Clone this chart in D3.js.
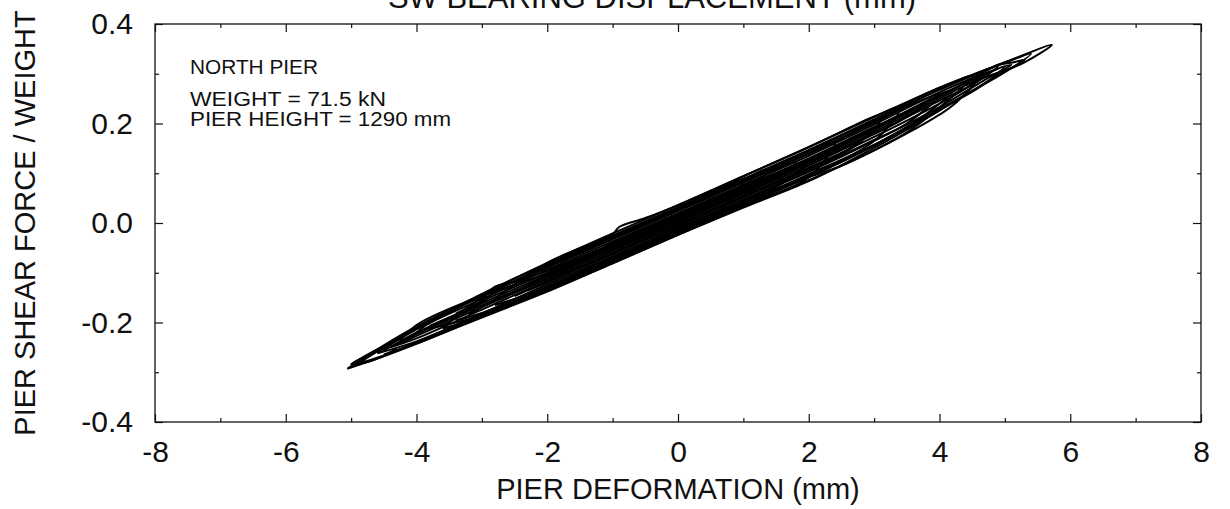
<!DOCTYPE html>
<html>
<head>
<meta charset="utf-8">
<script src="https://cdn.jsdelivr.net/npm/d3@7"></script>
<style>
  body { margin: 0; background: #fff; }
  text { font-family: "Liberation Sans", Arial, sans-serif; fill: #111; }
</style>
</head>
<body>
<div id="chart"></div>
<script>
// Data
const xMajor = [-8, -6, -4, -2, 0, 2, 4, 6, 8]
const xMinor = [-7, -5, -3, -1, 1, 3, 5, 7]
const yMajor = [-0.4, -0.2, 0.0, 0.2, 0.4]
const yMinor = [-0.3, -0.1, 0.1, 0.3]
const notes = ["NORTH PIER", "WEIGHT = 71.5 kN", "PIER HEIGHT = 1290 mm"]

// hysteresis cycles [deformation mm, shear / weight]
const loop1 = [[-5.06,-0.293],[-4.5,-0.246],[-4,-0.208],[-3,-0.143],[-2,-0.080],[-1,-0.021],[0,0.036],[1,0.094],[2,0.153],[3,0.213],[4,0.272],[5,0.323],[5.72,0.358],
  [5.3,0.323],[5,0.305],[4,0.226],[3,0.151],[2,0.084],[1,0.031],[0,-0.024],[-1,-0.081],[-2,-0.138],[-3,-0.190],[-4,-0.243],[-4.5,-0.268],[-5.06,-0.293]]
const loop2 = [[-4.9,-0.283],[-4.5,-0.250],[-4,-0.211],[-3,-0.148],[-2,-0.087],[-1,-0.029],[0,0.028],[1,0.086],[2,0.145],[3,0.207],[4,0.268],[5,0.322],[5.4,0.340],
  [5,0.303],[4,0.229],[3,0.157],[2,0.093],[1,0.038],[0,-0.018],[-1,-0.075],[-2,-0.132],[-3,-0.186],[-4,-0.240],[-4.5,-0.266],[-4.9,-0.283]]
const loop3 = [[-4.6,-0.262],[-4,-0.214],[-3,-0.153],[-2,-0.094],[-1,-0.037],[0,0.020],[1,0.077],[2,0.135],[3,0.198],[4,0.263],[4.6,0.296],[5.1,0.318],
  [4.7,0.288],[4,0.233],[3,0.165],[2,0.103],[1,0.047],[0,-0.010],[-1,-0.067],[-2,-0.124],[-3,-0.182],[-4,-0.238],[-4.6,-0.262]]
const loop4 = [[-4.4,-0.250],[-4,-0.220],[-3,-0.160],[-2.8,-0.138],[-2.5,-0.124],[-2,-0.101],[-1,-0.045],[0,0.012],[1,0.069],[2,0.127],[3,0.190],[4,0.257],[4.8,0.305],
  [4.4,0.270],[4,0.240],[3,0.173],[2,0.111],[1,0.055],[0,-0.002],[-1,-0.059],[-2,-0.116],[-3,-0.174],[-4,-0.232],[-4.4,-0.250]]
const loop5 = [[-4.1,-0.232],[-3.85,-0.205],[-3.5,-0.180],[-3,-0.143],[-2,-0.082],[-1,-0.025],[0,0.032],[1,0.089],[2,0.147],[3,0.208],[4,0.272],[4.5,0.295],
  [4,0.232],[3.5,0.182],[3,0.146],[2.5,0.115],[2,0.092],[1,0.043],[0,-0.014],[-1,-0.071],[-2,-0.128],[-3,-0.185],[-4,-0.240]]
const loop6 = [[-3.6,-0.212],[-3,-0.150],[-2,-0.090],[-1,-0.033],[0,0.024],[1,0.081],[2,0.139],[3,0.202],[3.6,0.240],[4.2,0.266],
  [3.7,0.210],[3,0.157],[2,0.094],[1,0.037],[0,-0.020],[-1,-0.077],[-2,-0.134],[-3,-0.189],[-3.6,-0.212]]
const loop7 = [[-3.2,-0.185],[-3.0,-0.155],[-2.8,-0.128],[-2.5,-0.118],[-2,-0.096],[-1,-0.041],[0,0.016],[1,0.073],[2,0.130],[3,0.193],[3.8,0.240],
  [3.3,0.198],[3,0.179],[2,0.116],[1,0.059],[0,0.002],[-1,-0.055],[-2,-0.112],[-3,-0.169],[-3.2,-0.185]]
const loop8 = [[-2.8,-0.152],[-2,-0.080],[-1,-0.022],[-0.9,-0.008],[-0.5,0.010],[0,0.036],[1,0.094],[2,0.152],[3,0.214],[3.4,0.232],
  [3,0.165],[2,0.098],[1,0.041],[0,-0.016],[-1,-0.073],[-2,-0.130],[-2.8,-0.165]]
const loop9 = [[-2.3,-0.125],[-2,-0.106],[-1,-0.049],[0,0.008],[1,0.065],[2,0.122],[2.9,0.180],
  [2.5,0.139],[2,0.108],[1,0.051],[0,-0.006],[-1,-0.063],[-2,-0.120],[-2.3,-0.136]]
const loop10 = [[-1.8,-0.078],[-1,-0.031],[0,0.026],[1,0.083],[2,0.140],[2.4,0.162],
  [2,0.092],[1,0.035],[0,-0.022],[-1,-0.079],[-1.8,-0.118]]
const loop11 = [[-1.2,-0.055],[-1,-0.039],[0,0.018],[1,0.075],[1.8,0.122],
  [1.5,0.089],[1,0.061],[0,0.004],[-1,-0.053],[-1.2,-0.066]]
const loop12 = [[-0.7,-0.016],[0,0.030],[1,0.087],
  [0.6,0.021],[0,-0.014],[-0.7,-0.055]]
const loop13 = [[-3.8,-0.207],[-3,-0.161],[-2,-0.104],[-1,-0.047],[0,0.010],[1,0.067],[2,0.124],[3,0.187],[4,0.254],[4.6,0.292],
  [4.2,0.236],[4,0.218],[3.5,0.180],[3,0.146],[2,0.086],[1,0.033],[0,-0.024],[-1,-0.081],[-2,-0.136],[-3,-0.186],[-3.8,-0.212]]
const loop14 = [[-4.3,-0.245],[-4,-0.205],[-3,-0.145],[-2,-0.088],[-1,-0.031],[0,0.026],[1,0.083],[2,0.140],[3,0.203],[4,0.268],[4.9,0.316],
  [4.5,0.278],[4,0.246],[3,0.179],[2,0.116],[1,0.059],[0,0.002],[-1,-0.055],[-2,-0.112],[-3,-0.169],[-4,-0.227],[-4.3,-0.245]]
const loop15 = [[-3.4,-0.182],[-3,-0.157],[-2,-0.100],[-1,-0.043],[0,0.014],[1,0.071],[2,0.128],[3,0.191],[4,0.256],
  [3.5,0.200],[3,0.167],[2,0.104],[1,0.047],[0,-0.010],[-1,-0.067],[-2,-0.124],[-3,-0.181],[-3.4,-0.196]]
const loop16 = [[-2.5,-0.118],[-2,-0.084],[-1,-0.027],[0,0.030],[1,0.087],[2,0.144],[3.1,0.208],
  [2.7,0.154],[2,0.110],[1,0.053],[0,-0.004],[-1,-0.061],[-2,-0.118],[-2.5,-0.147]]
const loop17 = [[-4.5,-0.256],[-4,-0.223],[-3,-0.165],[-2,-0.108],[-1,-0.051],[0,0.006],[1,0.063],[2,0.120],[3,0.183],[4,0.250],[5,0.315],
  [4.6,0.272],[4,0.228],[3,0.155],[2,0.092],[1,0.037],[0,-0.020],[-1,-0.077],[-2,-0.134],[-3,-0.188],[-4,-0.242],[-4.5,-0.264]]
const loop18 = [[-1.5,-0.074],[-1,-0.045],[0,0.012],[1,0.069],[2,0.126],
  [1.6,0.080],[1,0.045],[0,-0.012],[-1,-0.069],[-1.5,-0.098]]
const tipRight = [[4.4,0.285],[4.7,0.305],[4.9,0.318],[5.1,0.322],[5.3,0.328],[5.1,0.312],[4.85,0.300],[4.6,0.288],[4.4,0.276]]
const tipLeft = [[-4.3,-0.236],[-4.6,-0.254],[-4.85,-0.272],[-5.0,-0.284],[-4.8,-0.281],[-4.55,-0.270],[-4.3,-0.252]]

const loops = [loop1, loop2, loop3, loop4, loop5, loop6, loop7, loop8, loop9, loop10, loop11, loop12,
  loop13, loop14, loop15, loop16, loop17, loop18, tipRight, tipLeft]

function draw() {
  // Dimensions
  let dimensions = {
    width: 1230,
    height: 509,
    margins: { top: 24, right: 29, bottom: 87, left: 155 }
  }
  dimensions.ctrWidth = dimensions.width - dimensions.margins.left - dimensions.margins.right
  dimensions.ctrHeight = dimensions.height - dimensions.margins.top - dimensions.margins.bottom

  const svg = d3.select('#chart')
    .append('svg')
    .attr('width', dimensions.width)
    .attr('height', dimensions.height)

  const ctr = svg.append('g')
    .attr('transform', `translate(${dimensions.margins.left}, ${dimensions.margins.top})`)

  // Scales
  const xScale = d3.scaleLinear()
    .domain([-8, 8])
    .range([0, dimensions.ctrWidth])
  const yScale = d3.scaleLinear()
    .domain([-0.4, 0.4])
    .range([dimensions.ctrHeight, 0])

  // Axes: ticks point inward on every side
  const fontSize = 30
  const addAxis = (axis, transform, labels) => {
    const g = ctr.append('g')
      .attr('transform', transform)
      .call(axis)
    g.select('.domain').remove()
    g.selectAll('line').attr('stroke', '#111').attr('stroke-width', 1.2)
    g.selectAll('text')
      .attr('font-size', fontSize)
      .attr('font-family', '"Liberation Sans", Arial, sans-serif')
      .attr('fill', '#111')
    if (!labels) g.selectAll('text').remove()
    return g
  }

  addAxis(d3.axisBottom(xScale).tickValues(xMajor).tickSize(-8).tickPadding(19).tickFormat(d => String(d)),
    `translate(0, ${dimensions.ctrHeight})`, true)
  addAxis(d3.axisBottom(xScale).tickValues(xMinor).tickSize(-4),
    `translate(0, ${dimensions.ctrHeight})`, false)
  addAxis(d3.axisTop(xScale).tickValues(xMajor).tickSize(-8), 'translate(0, 0)', false)
  addAxis(d3.axisTop(xScale).tickValues(xMinor).tickSize(-4), 'translate(0, 0)', false)

  addAxis(d3.axisLeft(yScale).tickValues(yMajor).tickSize(-8).tickPadding(22).tickFormat(d => d.toFixed(1)),
    'translate(0, 0)', true)
  addAxis(d3.axisLeft(yScale).tickValues(yMinor).tickSize(-4), 'translate(0, 0)', false)
  addAxis(d3.axisRight(yScale).tickValues(yMajor).tickSize(-8), `translate(${dimensions.ctrWidth}, 0)`, false)
  addAxis(d3.axisRight(yScale).tickValues(yMinor).tickSize(-4), `translate(${dimensions.ctrWidth}, 0)`, false)

  // frame
  ctr.append('rect')
    .attr('width', dimensions.ctrWidth)
    .attr('height', dimensions.ctrHeight)
    .attr('fill', 'none')
    .attr('stroke', '#111')
    .attr('stroke-width', 1.3)

  // Draw loops
  const line = d3.line()
    .x(d => xScale(d[0]))
    .y(d => yScale(d[1]))
    .curve(d3.curveCatmullRom)

  ctr.selectAll('path.loop')
    .data(loops)
    .join('path')
    .attr('class', 'loop')
    .attr('d', line)
    .attr('fill', 'none')
    .attr('stroke', '#000')
    .attr('stroke-width', 2)
    .attr('stroke-linejoin', 'round')

  // notes
  ctr.append('g')
    .attr('transform', 'translate(35, 0)')
    .selectAll('text')
    .data(notes)
    .join('text')
    .attr('y', (d, i) => [50, 82, 102][i])
    .attr('font-size', 20)
    .attr('textLength', (d, i) => [128, 196, 261][i])
    .attr('lengthAdjust', 'spacingAndGlyphs')
    .text(d => d)

  // axis titles
  svg.append('text')
    .attr('x', dimensions.margins.left + dimensions.ctrWidth / 2)
    .attr('y', 499)
    .attr('text-anchor', 'middle')
    .attr('font-size', 29)
    .text('PIER DEFORMATION (mm)')

  svg.append('text')
    .attr('transform', `translate(35, ${dimensions.margins.top + dimensions.ctrHeight / 2}) rotate(-90)`)
    .attr('text-anchor', 'middle')
    .attr('font-size', 29)
    .text('PIER SHEAR FORCE / WEIGHT')

  // top title, cut by the page edge as in the scan
  svg.append('text')
    .attr('x', 652)
    .attr('y', 8)
    .attr('text-anchor', 'middle')
    .attr('font-size', 31)
    .text('SW BEARING DISPLACEMENT (mm)')
}

draw()
</script>
</body>
</html>
